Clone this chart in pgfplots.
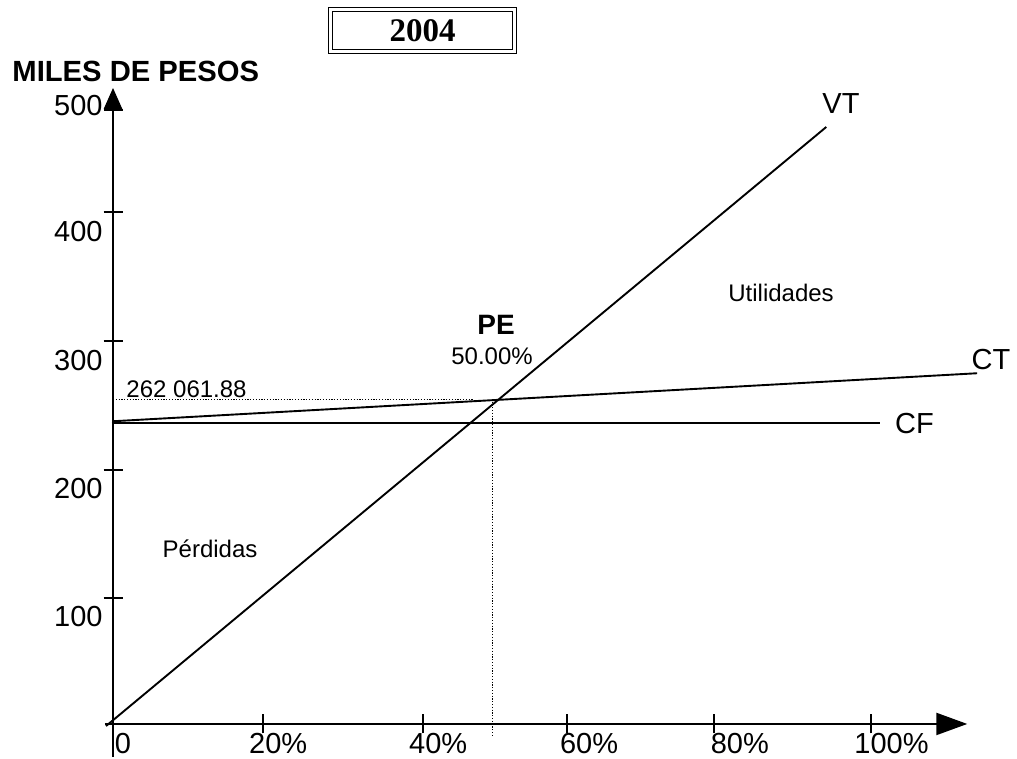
\documentclass[border=0pt]{standalone}
\usepackage{pgfplots}
\pgfplotsset{compat=1.18}
\usepackage{fontspec}
\setmainfont{Liberation Sans}
\newfontfamily\timesfont{Liberation Serif}
\usetikzlibrary{arrows.meta}
\begin{document}
\begin{tikzpicture}
\begin{axis}[
  x=3.79pt, y=0.64pt,
  xmin=-1.06, xmax=112.7, ymin=-25.8, ymax=496.9,
  axis lines=middle,
  clip=false,
  x axis line style={line width=1.1pt, -{Triangle[length=15.5pt,width=11pt]}},
  y axis line style={line width=1.1pt, -{Triangle[length=10.5pt,width=9pt]}},
  xtick={19.8,40.9,59.9,79.3,100}, xticklabels={,,,,},
  ytick={98.4,198.4,299.2,400,479.7}, yticklabels={,,,,},
  tick align=center, major tick length=9.5pt,
  tick style={black, line width=1pt},
  extra x ticks={1.32,21.8,42.9,62.8,82.7,102.7},
  extra x tick labels={0,20\%,40\%,60\%,80\%,100\%},
  extra y ticks={83.6,183.6,284,385,482.8},
  extra y tick labels={100,200,300,400,500},
  extra tick style={major tick length=0pt},
  xticklabel style={font=\fontsize{14.5}{16}\selectfont, anchor=north, inner sep=0pt, yshift=-4.5pt},
  yticklabel style={font=\fontsize{14.5}{16}\selectfont, anchor=east, inner sep=0pt, xshift=-5pt},
]
% CF
\addplot[black, line width=0.95pt] coordinates {(-0.2,235) (101.2,235)};
% CT
\addplot[black, line width=0.95pt] coordinates {(0,236.5) (114,274)};
% VT
\addplot[black, line width=0.95pt] coordinates {(-0.92,-1.6) (94.1,466.4)};
% dotted guides
\addplot[black, line width=0.6pt, dash pattern=on 0.6pt off 0.8pt] coordinates {(0,253.4) (47.5,253.4)};
\addplot[black, line width=0.6pt, dash pattern=on 0.6pt off 0.8pt] coordinates {(50.1,251.8) (50.1,-8.6)};

\node[font=\fontsize{12}{14}\selectfont, inner sep=0pt] at (axis cs:88.13,336.7) {Utilidades};
\node[font=\fontsize{12}{14}\selectfont, inner sep=0pt] at (axis cs:12.80,136.7) {Pérdidas};
\node[font=\bfseries\fontsize{14}{16}\selectfont, inner sep=0pt] at (axis cs:50.53,311.7) {PE};
\node[font=\fontsize{12}{14}\selectfont, inner sep=0pt] at (axis cs:50.0,287.1) {50.00\%};
\node[font=\fontsize{12}{14}\selectfont, inner sep=0pt] at (axis cs:9.70,261.3) {262 061.88};
\node[font=\fontsize{14.5}{16}\selectfont, inner sep=0pt] at (axis cs:96.04,484.4) {VT};
\node[font=\fontsize{14.5}{16}\selectfont, inner sep=0pt] at (axis cs:115.83,284.8) {CT};
\node[font=\fontsize{14.5}{16}\selectfont, inner sep=0pt] at (axis cs:105.74,234.8) {CF};
\node[font=\bfseries\fontsize{14.6}{16}\selectfont, inner sep=0pt, anchor=base west] at (axis cs:-13.32,502.3) {MILES DE PESOS};
\node[draw, double, double distance=1.5pt, line width=0.6pt, minimum width=92pt, minimum height=21pt, inner sep=0pt, font=\timesfont\bfseries\fontsize{16.5}{18}\selectfont] at (axis cs:40.83,541.8) {2004};

\coordinate (bl) at (axis cs:-14.91,-25.78);
\coordinate (tr) at (axis cs:119.26,565.6);
\end{axis}
\path (bl) rectangle (tr);
\end{tikzpicture}
\end{document}
